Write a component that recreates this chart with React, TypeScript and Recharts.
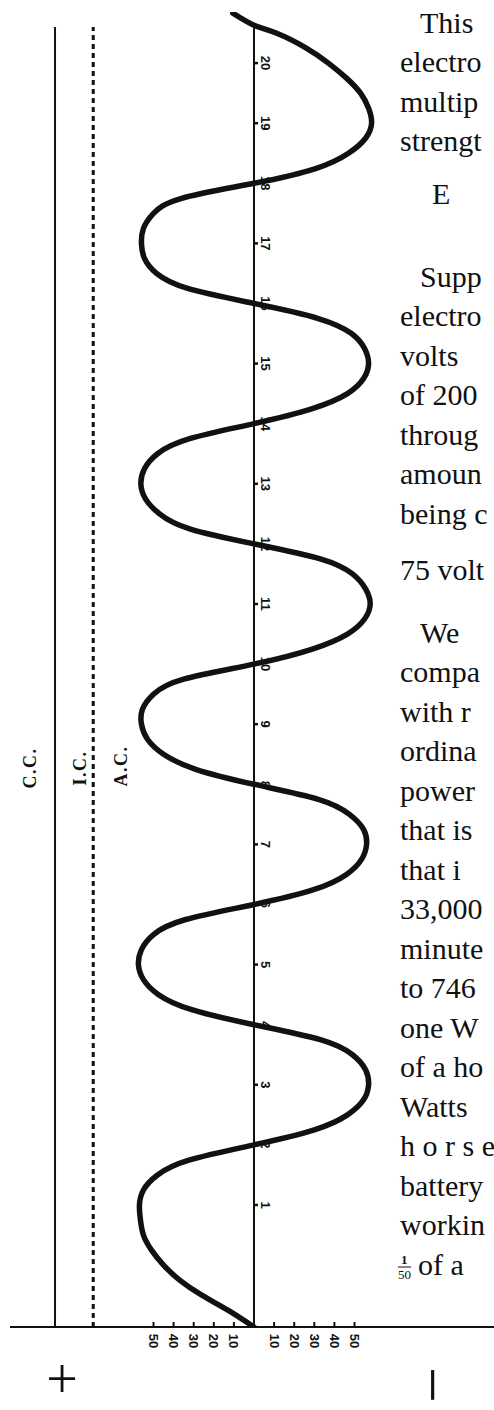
import React from 'react'
import { ComposedChart, Line, Scatter, XAxis, YAxis, ReferenceLine } from 'recharts'

// time runs up the page, current swings left (+) / right (-)
const waveTime = [
  -1.03, -0.75, -0.5, -0.25, 0, 0.25, 0.5, 0.75, 1, 1.25, 1.5, 1.75,
  2, 2.25, 2.5, 2.75, 3, 3.25, 3.5, 3.75,
  4, 4.25, 4.5, 4.75, 5, 5.25, 5.5, 5.75,
  6, 6.25, 6.5, 6.75, 7, 7.25, 7.5, 7.75,
  8, 8.25, 8.5, 8.75, 9, 9.25, 9.5, 9.75,
  10, 10.25, 10.5, 10.75, 11, 11.25, 11.5, 11.75,
  12, 12.25, 12.5, 12.75, 13, 13.25, 13.5, 13.75,
  14, 14.25, 14.5, 14.75, 15, 15.25, 15.5, 15.75,
  16, 16.25, 16.5, 16.75, 17, 17.25, 17.5, 17.75,
  18, 18.25, 18.5, 18.75, 19, 19.25, 19.5, 19.75, 20, 20.25, 20.5,
  20.63, 20.83,
]
const waveValue = [
  0, -13, -26, -37, -45, -51, -55, -56.5, -57, -55, -48, -32,
  0, 30, 46.5, 54.5, 57, 55.5, 49, 33,
  0, -31, -47.5, -55, -57.5, -56, -50, -34,
  0, 30, 46, 53.5, 56, 54.5, 47.5, 32,
  0, -29, -45, -53, -56, -55.5, -50, -35,
  0, 29, 46.5, 55, 57.8, 55.5, 49, 33,
  0, -32, -47, -54, -56.3, -54.5, -48, -32,
  0, 29, 46.5, 54.5, 57, 55, 48.5, 32,
  0, -33, -48.5, -54.5, -56, -55, -50, -36,
  0, 31, 47, 55.5, 58.5, 57, 53, 46, 37, 26, 11,
  0, -10.5,
]
const timeTicks = [1, 2, 3, 4, 5, 6, 7, 8, 9, 10, 11, 12, 13, 14, 15, 16, 17, 18, 19, 20]
const ampTicks = [-50, -40, -30, -20, -10, 10, 20, 30, 40, 50]

const continuousLevel = -99 // C.C.
const intermittentLevel = -80 // I.C.
const axisTop = 20.63
const refTop = 20.6

const T_MIN = -1.03
const T_MAX = 20.85
const V_MIN = -121.4
const V_MAX = 119.4

const waveData = waveTime.map((t, i) => ({ t, v: waveValue[i] }))
const tickData = timeTicks.map((t) => ({ t, v: 0 }))

// book text beside the figure (cut off by the page edge)
const pageRows: { text: string; x: number; y: number }[] = [
  { text: 'This', x: 420, y: 33 },
  { text: 'electro', x: 400, y: 72 },
  { text: 'multip', x: 400, y: 112 },
  { text: 'strengt', x: 400, y: 151 },
  { text: 'E', x: 432, y: 204 },
  { text: 'Supp', x: 420, y: 287 },
  { text: 'electro', x: 400, y: 326 },
  { text: 'volts', x: 400, y: 366 },
  { text: 'of  200', x: 400, y: 405 },
  { text: 'throug', x: 400, y: 445 },
  { text: 'amoun', x: 400, y: 484 },
  { text: 'being c', x: 400, y: 524 },
  { text: '75 volt', x: 400, y: 580 },
  { text: 'We', x: 420, y: 643 },
  { text: 'compa', x: 400, y: 682 },
  { text: 'with  r', x: 400, y: 722 },
  { text: 'ordina', x: 400, y: 761 },
  { text: 'power', x: 400, y: 801 },
  { text: 'that is', x: 400, y: 840 },
  { text: 'that  i', x: 400, y: 880 },
  { text: '33,000', x: 400, y: 919 },
  { text: 'minute', x: 400, y: 959 },
  { text: 'to 746', x: 400, y: 998 },
  { text: 'one W', x: 400, y: 1038 },
  { text: 'of a ho', x: 400, y: 1077 },
  { text: 'Watts', x: 400, y: 1117 },
  { text: 'h o r s e', x: 400, y: 1156 },
  { text: 'battery', x: 400, y: 1196 },
  { text: 'workin', x: 400, y: 1235 },
  { text: 'of a', x: 418, y: 1275 },
]

const INK = '#111'

function AmpTick(props: any) {
  const { x, y, payload } = props
  const ly = y + 14
  return (
    <g>
      <line x1={x} y1={y - 5} x2={x} y2={y} stroke={INK} strokeWidth={2} />
      <text
        x={x}
        y={ly}
        transform={`rotate(90 ${x} ${ly})`}
        textAnchor="middle"
        dominantBaseline="central"
        fontFamily="Liberation Sans"
        fontWeight={700}
        fontSize={13}
        fill={INK}
      >
        {Math.abs(payload.value)}
      </text>
    </g>
  )
}

function TimeTick(props: any) {
  const { cx, cy, payload } = props
  const lx = cx + 11
  return (
    <g>
      <line x1={cx} y1={cy} x2={cx + 4} y2={cy} stroke={INK} strokeWidth={2.5} />
      <text
        x={lx}
        y={cy}
        transform={`rotate(90 ${lx} ${cy})`}
        textAnchor="middle"
        dominantBaseline="central"
        fontFamily="Liberation Sans"
        fontWeight={700}
        fontSize={13}
        fill={INK}
      >
        {payload.t}
      </text>
    </g>
  )
}

function SideLabel({ x, y, text }: { x: number; y: number; text: string }) {
  return (
    <text
      x={x}
      y={y}
      transform={`rotate(-90 ${x} ${y})`}
      textAnchor="middle"
      dominantBaseline="central"
      fontFamily="Liberation Serif"
      fontWeight={700}
      fontSize={18}
      letterSpacing={1.5}
      fill={INK}
    >
      {text}
    </text>
  )
}

export default function App() {
  return (
    <div style={{ position: 'absolute', left: 0, top: 0, width: 494, height: 1410, background: '#fff', overflow: 'hidden' }}>
      <ComposedChart
        width={494}
        height={1410}
        layout="vertical"
        data={waveData}
        margin={{ top: 12, right: 0, left: 10, bottom: 43 }}
      >
        <XAxis
          type="number"
          dataKey="v"
          domain={[V_MIN, V_MAX]}
          allowDataOverflow
          ticks={ampTicks}
          interval={0}
          height={40}
          tickSize={0}
          tickMargin={0}
          tickLine={false}
          axisLine={{ stroke: INK, strokeWidth: 2 }}
          tick={<AmpTick />}
        />
        <YAxis
          type="number"
          dataKey="t"
          domain={[T_MIN, T_MAX]}
          allowDataOverflow
          reversed
          hide
          width={0}
        />
        <ReferenceLine
          segment={[{ x: 0, y: T_MIN }, { x: 0, y: axisTop }]}
          stroke={INK}
          strokeWidth={2}
        />
        <ReferenceLine
          segment={[{ x: continuousLevel, y: T_MIN }, { x: continuousLevel, y: refTop }]}
          stroke={INK}
          strokeWidth={2}
        />
        <ReferenceLine
          segment={[{ x: intermittentLevel, y: T_MIN }, { x: intermittentLevel, y: refTop }]}
          stroke={INK}
          strokeWidth={3}
          strokeDasharray="5 4"
        />
        <Scatter data={tickData} shape={<TimeTick />} isAnimationActive={false} />
        <Line
          data={waveData}
          dataKey="v"
          type="natural"
          stroke={INK}
          strokeWidth={5.5}
          strokeLinecap="round"
          dot={false}
          activeDot={false}
          isAnimationActive={false}
        />
      </ComposedChart>

      <svg width={494} height={1410} style={{ position: 'absolute', left: 0, top: 0, pointerEvents: 'none' }}>
        <SideLabel x={30} y={768} text="C.C." />
        <SideLabel x={80} y={768} text="I.C." />
        <SideLabel x={121} y={766} text="A.C." />

        {pageRows.map((r, i) => (
          <text key={i} x={r.x} y={r.y} fontFamily="Liberation Serif" fontSize={30} fill={INK}>
            {r.text}
          </text>
        ))}
        <text x={401} y={1264} fontFamily="Liberation Serif" fontSize={13} fontWeight={700} fill={INK}>1</text>
        <line x1={398} y1={1267} x2={411} y2={1267} stroke={INK} strokeWidth={1} />
        <text x={398} y={1279} fontFamily="Liberation Serif" fontSize={13} fill={INK}>50</text>

        <text x={62} y={1398} textAnchor="middle" fontFamily="Liberation Serif" fontSize={56} fill={INK}>+</text>
        <text
          x={432}
          y={1385}
          transform="rotate(-90 432 1385)"
          textAnchor="middle"
          dominantBaseline="central"
          fontFamily="Liberation Serif"
          fontSize={64}
          fill={INK}
        >
          −
        </text>
      </svg>
    </div>
  )
}
